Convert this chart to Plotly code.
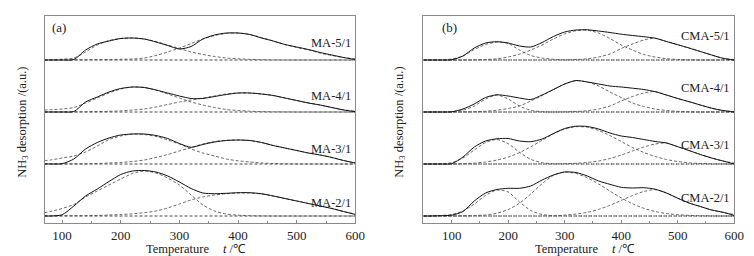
import plotly.graph_objects as go

# ---------------- data (heights, a.u.) ----------------
T_A = [70, 80, 100, 120, 140, 160, 180, 200, 220, 240, 260, 280, 300, 320, 340,
       360, 380, 400, 420, 440, 460, 480, 500, 520, 540, 560, 580, 600]

MA5_total = [0, 0, 0, 0.5, 10, 16, 19, 21.5, 22, 21, 18, 14.5, 11, 13.5, 21, 25, 27, 27, 25.5, 22, 19, 15.5, 13, 10.5, 7.5, 5, 2.5, 0.5]
MA5_p1 = [0, 0.3, 0.8, 2, 8, 15, 19.5, 21.5, 22, 21, 18.5, 15, 11.5, 8, 5.5, 3.5, 2, 1.2, 0.6, 0.3, 0.1, 0, 0, 0, 0, 0, 0, 0]
MA5_p2 = [0, 0, 0.1, 0.2, 0.3, 0.4, 0.5, 0.7, 1, 2, 4.5, 8, 12, 16.5, 21, 24.5, 26.5, 27, 25.5, 22.5, 19, 15.5, 12.5, 10, 7, 4.5, 2.5, 1]

MA4_total = [0, 0, 0, 0.5, 10, 15, 20, 23.5, 25, 24.5, 22, 19, 16, 13.5, 13.5, 15.5, 17.5, 19, 19, 18, 16.5, 14, 11.5, 9, 7, 4.5, 2, 0.3]
MA4_p1 = [2, 2.3, 3, 4.5, 9, 14, 19, 23, 25, 24.5, 22, 18, 14, 10, 7, 4.5, 2.5, 1.5, 0.8, 0.4, 0.2, 0.1, 0, 0, 0, 0, 0, 0]
MA4_p2 = [0.1, 0.1, 0.2, 0.2, 0.3, 0.4, 0.7, 1.2, 2, 3, 5, 7.5, 10, 12, 14, 16, 18, 19, 19, 18, 16.5, 14, 11.5, 9, 7, 4.5, 2.2, 0.8]

MA3_total = [0, 0, 0.3, 5, 15, 21.5, 26, 29, 30, 30, 28.5, 25.5, 20.5, 16.7, 19.5, 22, 23.5, 24, 23.5, 21.5, 18.5, 16, 13.5, 11, 9, 6.5, 3.5, 1]
MA3_p1 = [3.3, 4, 6, 8, 12, 18, 24.5, 28, 30, 29.5, 27.5, 24, 20, 15, 11, 8, 5, 3.2, 2, 1, 0.5, 0.2, 0, 0, 0, 0, 0, 0]
MA3_p2 = [0.1, 0.1, 0.2, 0.2, 0.2, 0.5, 1, 1.5, 2.5, 4, 6.5, 9.5, 13, 16.5, 20, 22.5, 23.7, 24, 23.5, 21.5, 18.5, 16, 13.5, 11, 9, 6.5, 3.5, 1]

MA2_total = [0, 0, 1.2, 10, 20, 27, 34.5, 41.5, 45, 45.5, 44, 40, 34, 27.5, 23, 22.3, 22.7, 23.3, 23.3, 22.3, 20, 17.5, 15, 12.5, 10, 7.5, 4.5, 1.5]
MA2_p1 = [3.3, 4.5, 7.5, 11.5, 19, 25, 31, 37, 42.5, 45, 43, 38, 31, 21, 11, 5, 2, 0.8, 0.3, 0.1, 0, 0, 0, 0, 0, 0, 0, 0]
MA2_p2 = [0.2, 0.2, 0.3, 0.3, 0.4, 0.5, 1, 1.5, 2.2, 3.3, 5, 8, 12, 16, 19, 21, 22.3, 23, 23, 22, 20, 17.5, 15, 12.5, 10, 7.5, 4.5, 2]

T_B = [50, 60, 80, 100, 120, 140, 160, 180, 200, 220, 240, 260, 280, 300, 320,
       340, 360, 380, 400, 420, 440, 460, 480, 500, 520, 540, 560, 580, 600]

CMA5_total = [0, 0, 0, 0.2, 4, 12, 17, 18.3, 17, 14, 13, 17.5, 23.5, 28, 30, 30.2, 29, 27.5, 25.8, 24.5, 23.3, 21.8, 18.5, 15.3, 12, 8.5, 5, 1.7, 0]
CMA5_p1 = [0, 0, 0.2, 1, 4, 10.5, 15.5, 18, 16.5, 10, 4.5, 2, 0.7, 0.2, 0, 0, 0, 0, 0, 0, 0, 0, 0, 0, 0, 0, 0, 0, 0]
CMA5_p2 = [0, 0, 0, 0, 0, 0.2, 0.5, 1.2, 3, 5.8, 10, 15, 21, 26, 29.3, 29.7, 27, 21.5, 15, 10, 5.5, 3, 1.3, 0.5, 0.2, 0, 0, 0, 0]
CMA5_p3 = [0, 0, 0, 0, 0, 0, 0, 0, 0, 0, 0, 0, 0, 0, 0.5, 1.2, 3, 6, 11.5, 16, 20, 21.8, 18.5, 15.3, 12, 8.5, 5, 1.8, 0.3]

CMA4_total = [0, 0, 0, 0.2, 3, 8, 14.5, 17.2, 16, 14, 12.5, 17, 22.5, 28, 31.5, 30, 28, 26, 25, 23.8, 22.5, 20.3, 17, 13.5, 10.3, 7, 3.8, 1.5, 0]
CMA4_p1 = [0, 0, 0.1, 0.3, 1.8, 6, 13, 17, 13, 6, 1.7, 0.3, 0, 0, 0, 0, 0, 0, 0, 0, 0, 0, 0, 0, 0, 0, 0, 0, 0]
CMA4_p2 = [0, 0, 0, 0, 0.1, 0.3, 0.8, 1.8, 3.5, 6, 11, 16.5, 22.3, 28, 31.3, 30, 26, 20, 14.5, 9, 5.5, 3, 1.5, 0.6, 0.2, 0, 0, 0, 0]
CMA4_p3 = [0, 0, 0, 0, 0, 0, 0, 0, 0, 0, 0, 0, 0, 0.2, 0.5, 1.3, 3, 6, 11, 15.5, 19, 20.5, 17, 13.5, 10.3, 7, 3.8, 1.5, 0.3]

CMA3_total = [0, 0, 0, 0.3, 7, 17, 23, 25.2, 25.5, 23, 22.3, 25, 30.5, 35.5, 37.8, 37.5, 35, 31, 28, 26.5, 24.5, 22.5, 21, 17.3, 13.5, 9.5, 6, 3, 0]
CMA3_p1 = [0, 0, 0.25, 1.3, 6, 14, 21.5, 24.5, 20.3, 11.7, 4.7, 1.3, 0.25, 0, 0, 0, 0, 0, 0, 0, 0, 0, 0, 0, 0, 0, 0, 0, 0]
CMA3_p2 = [0, 0, 0, 0.1, 0.3, 0.9, 2, 3.9, 6.9, 11.4, 17.2, 23.7, 30.1, 35, 37.3, 36.8, 33.5, 28.5, 22.5, 16.5, 11.5, 7.5, 4.5, 2.5, 1.2, 0.5, 0.2, 0, 0]
CMA3_p3 = [0, 0, 0, 0, 0, 0, 0, 0, 0, 0, 0, 0, 0, 0.3, 0.7, 1.5, 3, 5.5, 9, 13, 17, 20, 21, 17.3, 13.5, 9.5, 6, 3, 1]

CMA2_total = [0, 0, 0.3, 0.8, 4.5, 15, 23, 26.5, 27.7, 27.7, 30, 36, 41, 44, 43.5, 40, 35, 31.7, 28.7, 28, 28.3, 26.8, 23, 17.8, 13, 9.5, 6, 3.8, 0.5]
CMA2_p1 = [0, 0, 0.5, 1.5, 5, 12, 20.5, 26, 24, 14, 5.5, 1.5, 0.3, 0, 0, 0, 0, 0, 0, 0, 0, 0, 0, 0, 0, 0, 0, 0, 0]
CMA2_p2 = [0, 0, 0, 0, 0.2, 0.5, 1, 2.8, 6.4, 12.8, 22, 32.3, 40.7, 44, 42.5, 38.2, 32, 24.9, 18.1, 12.2, 7.7, 4.5, 2.5, 1.3, 0.6, 0.3, 0.1, 0, 0]
CMA2_p3 = [0, 0, 0, 0, 0, 0, 0, 0, 0, 0, 0, 0, 0, 0.9, 1.9, 3.7, 6.6, 10.7, 15.6, 20.5, 24.5, 26.4, 23, 17.8, 13, 9.5, 6, 3.5, 1.5]

LABELS_A = ["MA-5/1", "MA-4/1", "MA-3/1", "MA-2/1"]
LABELS_B = ["CMA-5/1", "CMA-4/1", "CMA-3/1", "CMA-2/1"]
X_TITLE = "Temperature"
X_UNIT = "<i>t</i> /℃"
Y_TITLE = "NH<sub>3</sub> desorption /(a.u.)"

# ---------------- figure ----------------
W, H = 754, 256
FONT = "Liberation Serif, Times New Roman, serif"
OFFSETS = [156, 104, 52, 0]   # vertical stacking of the four curves in each panel
GRAY = "#8a8a8a"

fig = go.Figure()


def add_panel(xa, ya, T, samples, base_dash):
    for off, (total, peaks) in zip(OFFSETS, samples):
        fig.add_trace(go.Scatter(
            x=T, y=[off + 0 * v for v in total], mode="lines",
            line=dict(color="#333", width=0.9, dash=base_dash),
            xaxis=xa, yaxis=ya, hoverinfo="skip", showlegend=False))
        for p in peaks:
            fig.add_trace(go.Scatter(
                x=T, y=[off + v for v in p], mode="lines",
                line=dict(color="#444", width=0.8, dash="3px,2px",
                          shape="spline", smoothing=0.7),
                xaxis=xa, yaxis=ya, hoverinfo="skip", showlegend=False))
        fig.add_trace(go.Scatter(
            x=T, y=[off + v for v in total], mode="lines",
            line=dict(color="#111", width=1.0, shape="spline", smoothing=0.7),
            xaxis=xa, yaxis=ya, hoverinfo="skip", showlegend=False))


add_panel("x", "y", T_A, [
    (MA5_total, [MA5_p1, MA5_p2]),
    (MA4_total, [MA4_p1, MA4_p2]),
    (MA3_total, [MA3_p1, MA3_p2]),
    (MA2_total, [MA2_p1, MA2_p2]),
], "3px,2px")

add_panel("x2", "y2", T_B, [
    (CMA5_total, [CMA5_p1, CMA5_p2, CMA5_p3]),
    (CMA4_total, [CMA4_p1, CMA4_p2, CMA4_p3]),
    (CMA3_total, [CMA3_p1, CMA3_p2, CMA3_p3]),
    (CMA2_total, [CMA2_p1, CMA2_p2, CMA2_p3]),
], "1px,1.5px")

ydom = [1 - 215 / H, 1 - 8 / H]


def xaxis_cfg(dom, rng, anchor):
    return dict(domain=dom, range=rng, anchor=anchor, showline=True, linecolor=GRAY,
                linewidth=1, mirror=True, ticks="inside", ticklen=3, tickcolor=GRAY,
                tick0=0, dtick=100, showgrid=False, zeroline=False,
                minor=dict(dtick=50, ticks="inside", ticklen=2, tickcolor=GRAY),
                tickfont=dict(family=FONT, size=13, color="#222"))


def yaxis_cfg(anchor):
    return dict(domain=ydom, range=[-7, 200], anchor=anchor, showline=True,
                linecolor=GRAY, linewidth=1, mirror=True, ticks="",
                showticklabels=False, showgrid=False, zeroline=False)


fig.update_layout(
    width=W, height=H, margin=dict(l=0, r=0, t=0, b=0),
    paper_bgcolor="white", plot_bgcolor="white", showlegend=False,
    xaxis=xaxis_cfg([37 / W, 352 / W], [70, 600], "y"),
    yaxis=yaxis_cfg("x"),
    xaxis2=xaxis_cfg([421 / W, 736 / W], [50, 600], "y2"),
    yaxis2=yaxis_cfg("x2"),
)


def ann(text, px, py, size=12, xanchor="center", angle=0):
    fig.add_annotation(text=text, x=px / W, y=1 - py / H, xref="paper", yref="paper",
                       showarrow=False, xanchor=xanchor, yanchor="middle",
                       textangle=angle, font=dict(family=FONT, size=size, color="#222"))


ann("(a)", 52, 19, 13)
ann("(b)", 447, 19, 13)
for lab, py in zip(LABELS_A, [35, 88, 141, 195]):
    ann(lab, 350, py, 12.5, "right")
for lab, py in zip(LABELS_B, [28, 80, 137, 190]):
    ann(lab, 734, py, 12.5, "right")

ann(Y_TITLE, 15, 114, 12.5, angle=-90)
ann(Y_TITLE, 397, 114, 12.5, angle=-90)
ann(X_TITLE, 172, 241, 12.5)
ann(X_UNIT, 230, 241, 12.5)
ann(X_TITLE, 566, 241, 12.5)
ann(X_UNIT, 624, 241, 12.5)

fig.write_html("out.html")
